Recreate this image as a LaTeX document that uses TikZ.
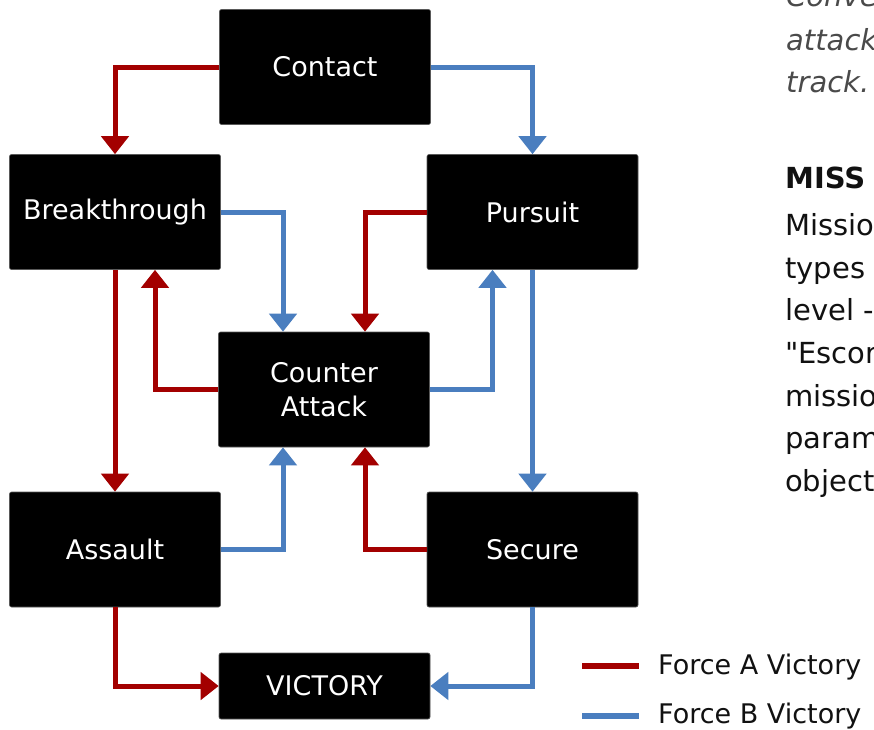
\documentclass[tikz,border=0pt]{standalone}
\usepackage{fontspec}
\setmainfont{DejaVu Sans}
\usetikzlibrary{arrows.meta,calc}
\definecolor{forcea}{HTML}{A30000}
\definecolor{forceb}{HTML}{4A7EBF}
\definecolor{bodytext}{HTML}{111111}
\definecolor{greytext}{HTML}{4A4A4A}
\tikzset{
  box/.style={fill=black, draw=black!65, line width=0.6pt, rounded corners=2pt,
    minimum width=211pt, minimum height=115pt, text=white, inner sep=0pt,
    font=\fontsize{27}{34}\selectfont, align=center},
  reda/.style={draw=forcea, line width=5pt, -{Triangle[width=27pt,length=18pt]}},
  bluea/.style={draw=forceb, line width=5pt, -{Triangle[width=27pt,length=18pt]}},
  legline/.style={line width=6pt},
  legtext/.style={anchor=west, text=bodytext, inner sep=0pt, font=\fontsize{27}{32}\selectfont},
  sidetext/.style={anchor=base west, text=bodytext, inner sep=0pt, font=\fontsize{29}{34}\selectfont},
  toptext/.style={anchor=base west, text=greytext, inner sep=0pt, font=\fontsize{29}{34}\selectfont\itshape},
}
\begin{document}
\begin{tikzpicture}[x=1pt, y=-1pt]
\useasboundingbox (0,0) rectangle (874,729);
\clip (0,0) rectangle (874,729);
\fill[white] (0,0) rectangle (874,729);

% boxes
\node[box] (contact) at (325,67) {Contact};
\node[box] (breakthrough) at (115,212) {Breakthrough};
\node[box] (pursuit) at (532.5,212) {Pursuit};
\node[box] (counter) at (324,389.5) {Counter\\Attack};
\node[box] (assault) at (115,549.5) {Assault};
\node[box] (secure) at (532.5,549.5) {Secure};
\node[box, minimum height=66pt] (victory) at (324.5,686) {VICTORY};

% connectors
\draw[reda] (contact.west) -| (breakthrough.north);
\draw[bluea] (contact.east) -| (pursuit.north);
\draw[bluea] (breakthrough.east) -| ([xshift=-41pt]counter.north);
\draw[reda] (pursuit.west) -| ([xshift=41pt]counter.north);
\draw[reda] (breakthrough.south) -- (assault.north);
\draw[reda] (counter.west) -| ([xshift=40pt]breakthrough.south);
\draw[bluea] (counter.east) -| ([xshift=-40pt]pursuit.south);
\draw[bluea] (pursuit.south) -- (secure.north);
\draw[bluea] (assault.east) -| ([xshift=-41pt]counter.south);
\draw[reda] (secure.west) -| ([xshift=41pt]counter.south);
\draw[reda] (assault.south) |- (victory.west);
\draw[bluea] (secure.south) |- (victory.east);

% legend
\coordinate (la1) at (582,666);
\coordinate (la2) at (639,666);
\coordinate (lb1) at (582,716);
\coordinate (lb2) at (639,716);
\draw[legline, forcea] (la1) -- (la2);
\draw[legline, forceb] (lb1) -- (lb2);
\node[legtext] (lega) at (658,667) {Force A Victory};
\node[legtext] (legb) at (658,716) {Force B Victory};

% side text (cut off at the edge, as in the reference)
\node[toptext] (t1) at (786,6) {Conve};
\node[toptext] (t2) at (786,50) {attack};
\node[toptext] (t3) at (786,92) {track.};
\node[sidetext, font=\fontsize{29}{34}\selectfont\bfseries] (s0) at (785,188) {MISS};
\node[sidetext] (s1) at (785,235) {Missio};
\node[sidetext] (s2) at (785,278) {types};
\node[sidetext] (s3) at (785,320) {level -};
\node[sidetext] (s4) at (785,363) {\textquotedbl Escor};
\node[sidetext] (s5) at (785,406) {missio};
\node[sidetext] (s6) at (785,448) {param};
\node[sidetext] (s7) at (785,491) {object};
\end{tikzpicture}
\end{document}
